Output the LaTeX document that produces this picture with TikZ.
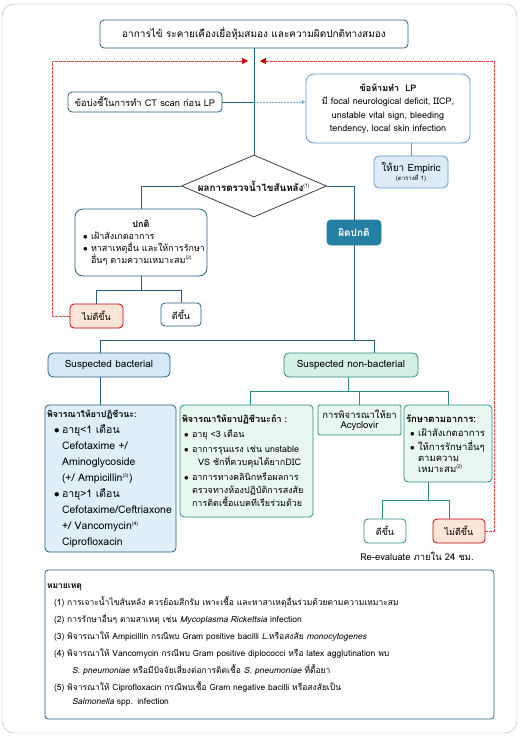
\documentclass[tikz,border=0pt]{standalone}
\usepackage{fontspec}
\setmainfont[Script=Thai]{Loma}
\usetikzlibrary{shapes.geometric,arrows.meta}

\definecolor{darkline}{RGB}{35,96,125}
\definecolor{tealline}{RGB}{42,140,128}
\definecolor{redline}{RGB}{225,60,60}
\definecolor{redbox}{RGB}{192,0,0}
\definecolor{peach}{RGB}{251,229,214}
\definecolor{skyfill}{RGB}{212,233,245}
\definecolor{paleblue}{RGB}{223,238,248}
\definecolor{mintfill}{RGB}{212,240,229}
\definecolor{palemint}{RGB}{233,247,241}
\definecolor{abnfill}{RGB}{36,128,163}
\definecolor{ciborder}{RGB}{91,155,213}
\definecolor{empfill}{RGB}{221,235,247}
\definecolor{dotblue}{RGB}{120,175,215}
\definecolor{framegray}{RGB}{175,175,175}

\newcommand{\bul}{\makebox[8pt][l]{$\bullet$}}
\newcommand{\fn}[1]{\textsuperscript{\tiny(#1)}}
\newcommand{\fs}[2]{\fontsize{#1}{#2}\selectfont}

\begin{document}
\begin{tikzpicture}[x=1pt,y=-1pt,
  font=\fs{9}{12},
  box/.style={draw=darkline,line width=0.8pt,rounded corners=4pt,fill=white,inner sep=3pt,align=center},
  tealbox/.style={box,draw=tealline,fill=palemint},
  conn/.style={draw=darkline,line width=0.8pt},
  tealconn/.style={draw=tealline,line width=0.8pt},
  fbline/.style={draw=redline,line width=0.6pt,dash pattern=on 2.5pt off 1.5pt,-{Triangle[length=6pt,width=6pt,color=redbox]}},
  dotarrow/.style={draw=dotblue,line width=1pt,dash pattern=on 2pt off 1pt,-{Triangle[length=4pt,width=4pt]}}
]
\useasboundingbox (0,0) rectangle (520,737);
\draw[framegray,rounded corners=12pt] (2,4) rectangle (517,733);

% top part
\node[box,minimum width=308,minimum height=28,font=\fs{10}{12}] (symptom) at (254,34) {อาการไข้ ระคายเคืองเยื่อหุ้มสมอง และความผิดปกติทางสมอง};
\node[box,minimum width=154,minimum height=20,inner sep=0pt,font=\fs{9.3}{11}] (ctind) at (145,102) {ข้อบ่งชี้ในการทำ CT scan ก่อน LP};
\node[box,draw=ciborder,rounded corners=8pt,minimum width=164,minimum height=69,font=\fs{9}{13.5}] (contra) at (388,108.5)
  {\textbf{ข้อห้ามทำ\ \ LP}\\ มี focal neurological deficit, IICP,\\ unstable vital sign, bleeding\\ tendency, local skin infection};
\node[box,draw=ciborder,fill=empfill,rounded corners=5pt,minimum width=74,minimum height=32,font=\fs{10}{12}] (empiric) at (411,172)
  {ให้ยา Empiric\\[-3pt] {\fs{6}{7}(ตารางที่ 1)}};
\node[diamond,draw=black!75,line width=0.8pt,aspect=2.3,minimum width=145,minimum height=62,inner sep=0pt,font=\fs{9.8}{12}] (csf) at (254,186)
  {\makebox[0pt]{\textbf{ผลการตรวจน้ำไขสันหลัง}\fn{1}}};

% normal / abnormal
\node[box,rounded corners=8pt,minimum width=132,minimum height=67,text width=126pt,align=left,inner sep=2pt] (normal) at (141,242.5)
  {\makebox[126pt]{\textbf{ปกติ}}\\
   \hspace*{5pt}\bul เฝ้าสังเกตอาการ\\
   \hspace*{5pt}\bul \mbox{หาสาเหตุอื่น และให้การรักษา}\\
   \hspace*{13pt}อื่นๆ ตามความเหมาะสม\fn{2}};
\node[box,draw=abnfill,fill=abnfill,text=white,minimum width=54,minimum height=25,font=\fs{10}{12}] (abn) at (354,232.5) {\textbf{ผิดปกติ}};
\node[box,draw=redbox,fill=peach,minimum width=53,minimum height=24] (worseA) at (96.5,316) {ไม่ดีขึ้น};
\node[box,minimum width=40,minimum height=23] (betterA) at (181,314.5) {ดีขึ้น};

% bacterial / non-bacterial
\node[box,fill=skyfill,rounded corners=5pt,minimum width=122,minimum height=24,font=\fs{10}{12}] (bact) at (109,365) {Suspected bacterial};
\node[box,draw=tealline,fill=mintfill,rounded corners=5pt,minimum width=134,minimum height=24,font=\fs{10}{12}] (nonbact) at (351,365) {Suspected non-bacterial};

\node[box,fill=paleblue,minimum width=131,minimum height=147,text width=127pt,align=left,inner sep=2pt,
  font=\fs{10.5}{16}] (drugA) at (110.5,478.5)
  {{\fs{8.8}{16}\textbf{พิจารณาให้ยาปฏิชีวนะ:}}\\
   \hspace*{7pt}\bul อายุ<1 เดือน\\
   \hspace*{15pt}Cefotaxime +/\\
   \hspace*{15pt}Aminoglycoside\\
   \hspace*{15pt}(+/ Ampicillin\fn{3})\\
   \hspace*{7pt}\bul อายุ>1 เดือน\\
   \hspace*{15pt}Cefotaxime/Ceftriaxone\\
   \hspace*{15pt}+/ Vancomycin\fn{4}\\
   \hspace*{15pt}Ciprofloxacin};
\node[tealbox,minimum width=133,minimum height=112,text width=129pt,align=left,inner sep=2pt,
  font=\fs{9}{13}] (drugB) at (246.5,461)
  {\textbf{พิจารณาให้ยาปฏิชีวนะถ้า :}\\[2pt]
   \hspace*{2pt}\bul อายุ <3 เดือน\\[2pt]
   \hspace*{2pt}\bul อาการรุนแรง เช่น unstable\\
   \hspace*{16pt}VS ชักที่ควบคุมได้ยากDIC\\[2pt]
   \hspace*{2pt}\bul อาการทางคลินิกหรือผลการ\\
   \hspace*{10pt}ตรวจทางห้องปฏิบัติการสงสัย\\
   \hspace*{10pt}การติดเชื้อแบคทีเรียร่วมด้วย};
\node[tealbox,rounded corners=2pt,minimum width=83,minimum height=30,inner sep=1pt,font=\fs{9.5}{10.5}] (acyc) at (359.5,420)
  {การพิจารณาให้ยา\\ Acyclovir};
\node[tealbox,minimum width=88,minimum height=77,text width=84pt,align=left,inner sep=2pt,
  font=\fs{9.5}{11}] (sympt) at (448,443.5)
  {\textbf{รักษาตามอาการ:}\\[3pt]
   \hspace*{4pt}\bul เฝ้าสังเกตอาการ\\[3pt]
   \hspace*{4pt}\bul ให้การรักษาอื่นๆ\\
   \hspace*{12pt}ตามความ\\
   \hspace*{12pt}เหมาะสม\fn{2}};
\node[box,draw=tealline,minimum width=42,minimum height=24] (betterB) at (385,531) {ดีขึ้น};
\node[box,draw=redbox,fill=peach,minimum width=52,minimum height=24] (worseB) at (459,531) {ไม่ดีขึ้น};
\node[font=\fs{9.4}{11}] (reeval) at (417,556) {Re-evaluate ภายใน 24 ชม.};

% notes
\node[box,rounded corners=3pt,minimum width=449,minimum height=149,text width=445pt,align=left,inner sep=2pt,
  font=\fs{8.5}{17}] (notes) at (269.5,644.5)
  {\textbf{หมายเหตุ}\\
   \hspace*{7pt}(1) การเจาะน้ำไขสันหลัง ควรย้อมสีกรัม เพาะเชื้อ และหาสาเหตุอื่นร่วมด้วยตามความเหมาะสม\\
   \hspace*{7pt}(2) การรักษาอื่นๆ ตามสาเหตุ เช่น \textit{Mycoplasma Rickettsia} infection\\
   \hspace*{7pt}(3) พิจารณาให้ Ampicillin กรณีพบ Gram positive bacilli \textit{L.}หรือสงสัย \textit{monocytogenes}\\
   \hspace*{7pt}(4) พิจารณาให้ Vancomycin กรณีพบ Gram positive diplococci หรือ latex agglutination พบ\\
   \hspace*{25pt}\textit{S. pneumoniae} หรือมีปัจจัยเสี่ยงต่อการติดเชื้อ \textit{S. pneumoniae} ที่ดื้อยา\\
   \hspace*{7pt}(5) พิจารณาให้ Ciprofloxacin กรณีพบเชื้อ Gram negative bacilli หรือสงสัยเป็น\\[-3pt]
   \hspace*{25pt}\textit{Salmonella} spp. infection};

% connectors
\coordinate (ctjoin) at (ctind.east -| symptom.south);
\draw[conn] (symptom) -- (csf);
\draw[conn] (ctind) -- (ctjoin);
\draw[dotarrow] (ctjoin) -- (contra.west |- ctind);
\draw[conn,draw=ciborder] (empiric.north |- contra.south) -- (empiric.north);
\draw[conn] (csf.west) -| (normal.north);
\draw[conn] (csf.east) -| (abn.north);
\draw[conn] (normal.south) -- ++(0,14) coordinate (nj);
\draw[conn] (nj) -| (worseA.north);
\draw[conn] (nj) -| (betterA.north);
\draw[conn] (abn.south) -- ++(0,95) coordinate (aj);
\draw[conn] (aj) -| ([xshift=-9pt]bact.north);
\draw[conn] (aj) -| ([xshift=23pt]nonbact.north);
\draw[conn] ([xshift=-9pt]bact.south) -- ([xshift=-9pt]bact.south |- drugA.north);
\draw[tealconn] ([xshift=-3pt]nonbact.south) -- ++(0,14) coordinate (bj);
\draw[tealconn] (bj) -| ([xshift=4pt]drugB.north);
\draw[tealconn] (bj) -| (acyc.north);
\draw[tealconn] (bj) -| (sympt.north);
\draw[tealconn] ([xshift=-20pt]sympt.south) -- ++(0,18) coordinate (sj);
\draw[tealconn] (sj) -| ([xshift=-3pt]betterB.north);
\draw[tealconn] (sj) -| ([xshift=-10pt]worseB.north);

% feedback when not better
\coordinate (fbL) at (52,61);
\coordinate (fbR) at (494,61);
\coordinate (tipL) at (248,61);
\coordinate (tipR) at (260,61);
\draw[fbline] (worseA.west) -| (fbL) -- (tipL);
\draw[fbline] (worseB.east) -| (fbR) -- (tipR);
\end{tikzpicture}
\end{document}
